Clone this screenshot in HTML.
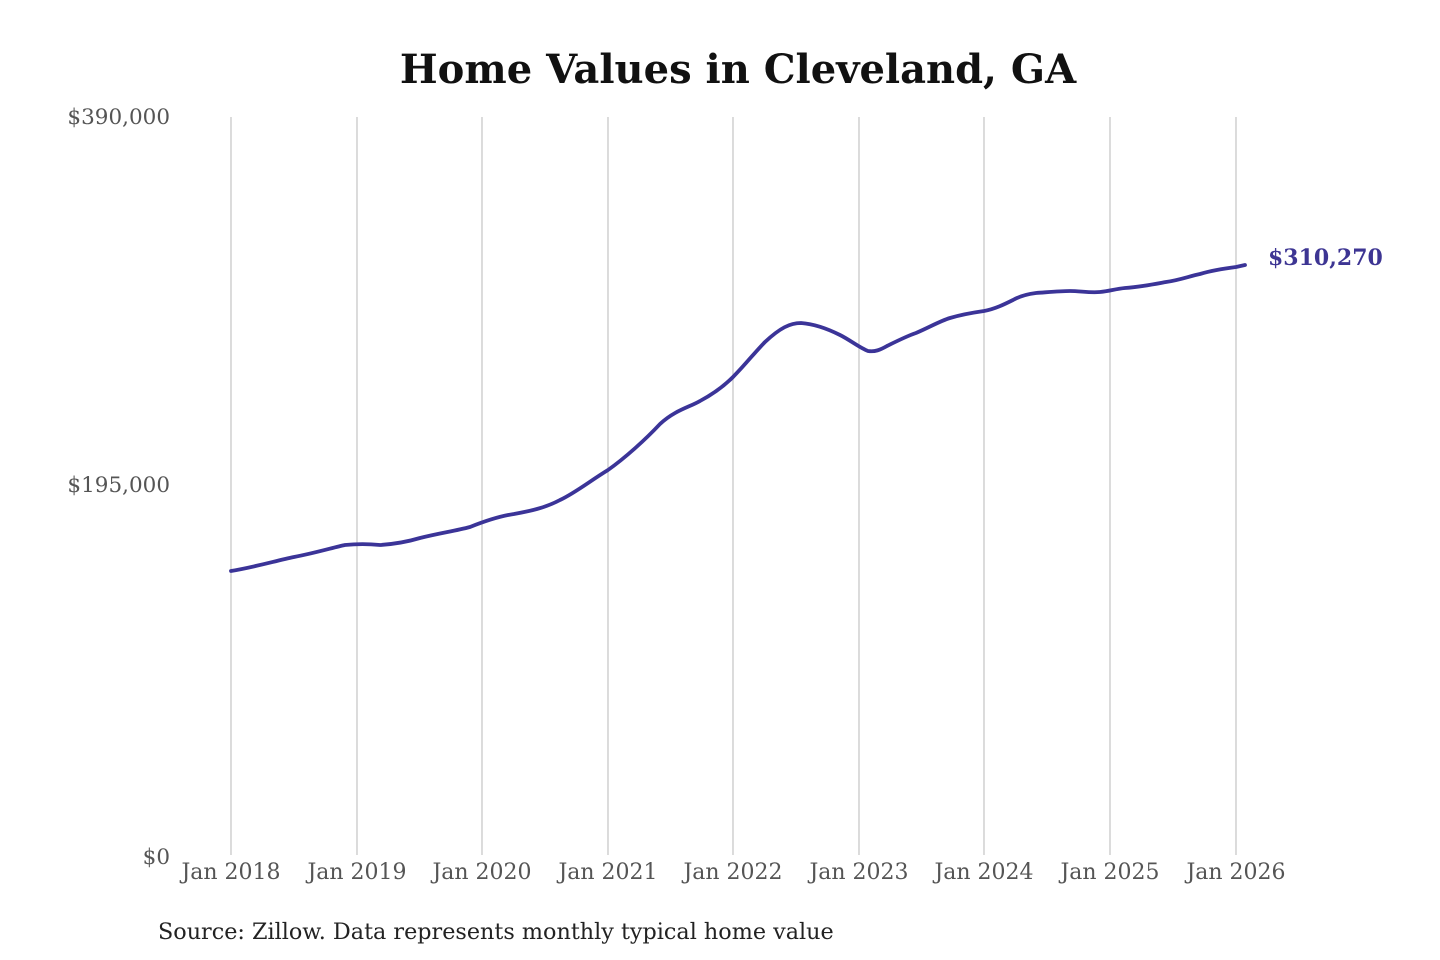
<!DOCTYPE html>
<html><head><meta charset="utf-8"><style>
html,body{margin:0;padding:0;background:#fff;width:1440px;height:960px;overflow:hidden}
svg{display:block}
</style></head><body>
<svg width="1440" height="960" viewBox="0 0 1440 960" xmlns="http://www.w3.org/2000/svg" font-family="'DejaVu Serif','Liberation Serif',serif">
<text x="738" y="83" text-anchor="middle" font-size="40" font-weight="bold" fill="#111">Home Values in Cleveland, GA</text>
<g stroke="#c8c8c8" stroke-width="1.3">
<line x1="231" y1="117" x2="231" y2="855"/><line x1="357" y1="117" x2="357" y2="855"/>
<line x1="482" y1="117" x2="482" y2="855"/><line x1="608" y1="117" x2="608" y2="855"/>
<line x1="733" y1="117" x2="733" y2="855"/><line x1="859" y1="117" x2="859" y2="855"/>
<line x1="984" y1="117" x2="984" y2="855"/><line x1="1110" y1="117" x2="1110" y2="855"/>
<line x1="1236" y1="117" x2="1236" y2="855"/>
</g>
<g font-size="21.5" fill="#555" text-anchor="end">
<text x="170" y="124">$390,000</text>
<text x="170" y="492">$195,000</text>
<text x="170" y="864">$0</text>
</g>
<g font-size="22" fill="#555" text-anchor="middle">
<text x="231" y="879">Jan 2018</text><text x="357" y="879">Jan 2019</text>
<text x="482" y="879">Jan 2020</text><text x="608" y="879">Jan 2021</text>
<text x="733" y="879">Jan 2022</text><text x="859" y="879">Jan 2023</text>
<text x="984" y="879">Jan 2024</text><text x="1110" y="879">Jan 2025</text>
<text x="1236" y="879">Jan 2026</text>
</g>
<path fill="none" stroke="#3b3498" stroke-width="3.8" stroke-linejoin="round" stroke-linecap="round"
d="M231,571 C255,567 275,561 294,557 C315,553 335,547 345,545 C355,544 370,544 380,545 C395,544 410,541 420,538 C440,533 455,531 470,527 C485,521 500,516 514,514 C530,511 545,508 560,500 C575,493 590,481 608,470 C625,458 645,440 660,424 C675,410 690,407 700,401 C715,393 725,385 733,377 C745,365 755,352 765,342 C780,328 790,323 801,323 C815,324 830,330 840,335 C850,340 860,348 868,351 C875,352 880,350 887,346 C897,341 907,336 916,333 C930,327 940,321 950,318 C960,315 970,313 984,311 C995,309 1005,304 1013,300 C1020,296 1028,294 1036,293 C1050,292 1060,291 1070,291 C1080,291 1090,293 1100,292 C1110,291 1115,289 1125,288 C1140,287 1155,284 1166,282 C1180,280 1190,276 1200,274 C1210,271 1220,269 1236,267 L1245,265"/>
<text x="1268" y="265" font-size="22" font-weight="bold" fill="#3d3593">$310,270</text>
<text x="158" y="939" font-size="22.3" fill="#222">Source: Zillow. Data represents monthly typical home value</text>
</svg>
</body></html>
